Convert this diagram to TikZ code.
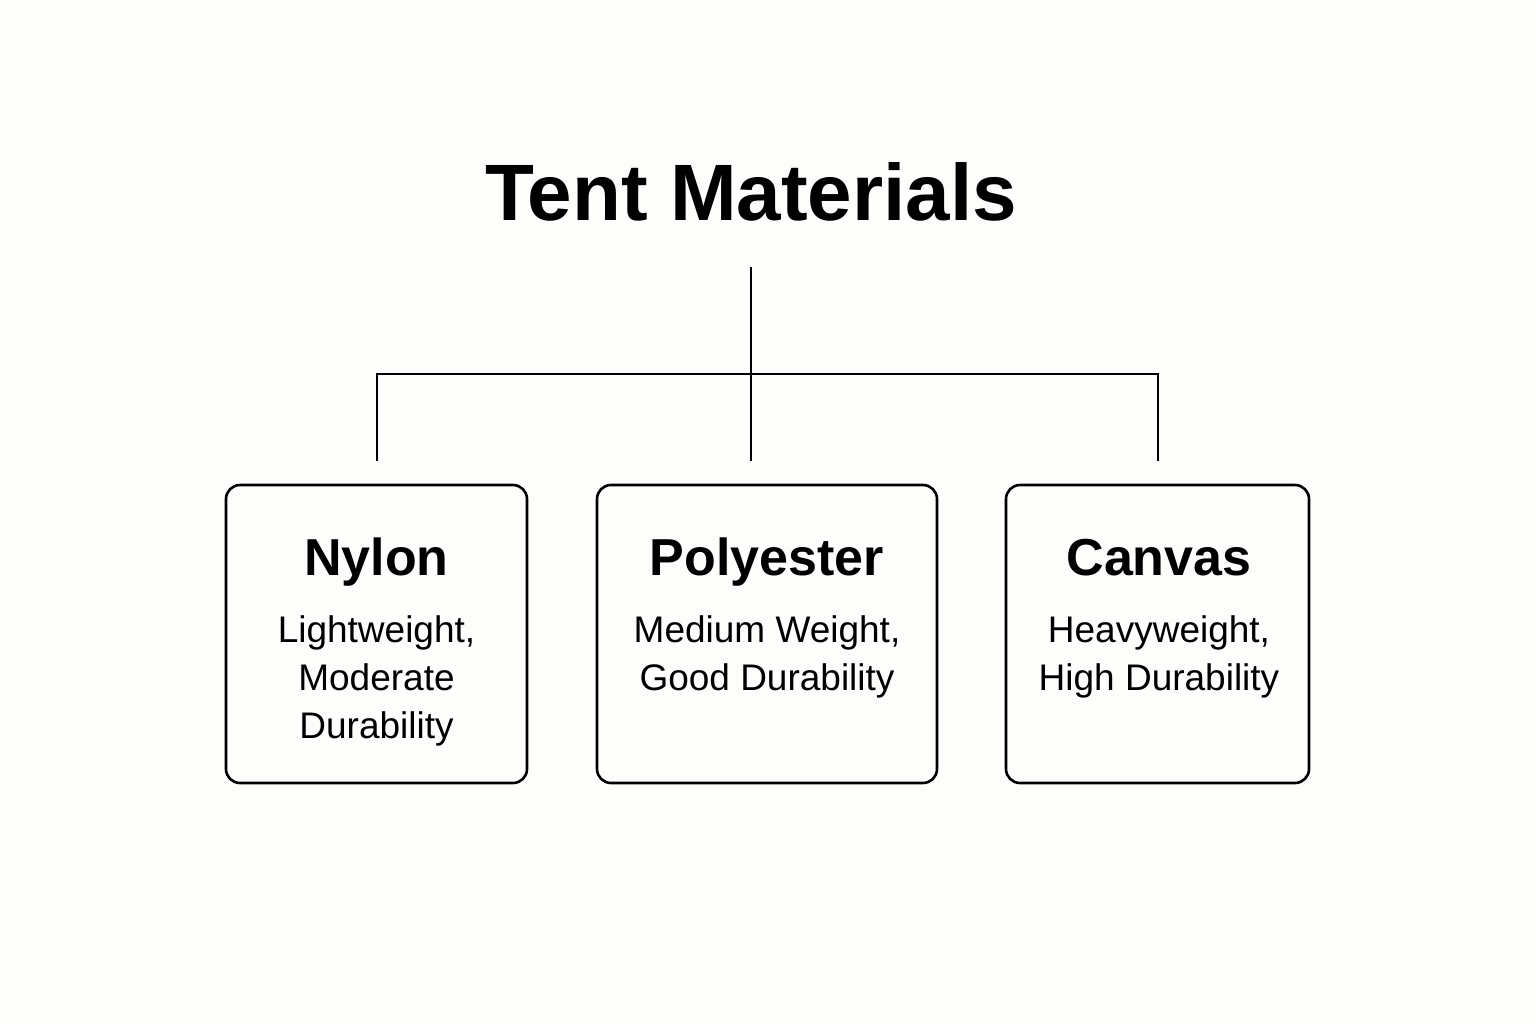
\documentclass[tikz,border=0pt]{standalone}
\usepackage{fontspec}
\setmainfont{Liberation Sans}
\usetikzlibrary{positioning}
\definecolor{paper}{HTML}{FDFDFB}
\tikzstyle{matbox}=[draw, line width=1.3pt, rounded corners=7pt, inner sep=0pt]
\tikzstyle{matname}=[anchor=base, font=\fontsize{26}{30}\selectfont\bfseries]
\tikzstyle{matdesc}=[anchor=north, align=center, inner sep=0pt, font=\fontsize{18.5}{24}\selectfont]
\tikzstyle{link}=[draw, line width=1.3pt]

\begin{document}
\begin{tikzpicture}[x=0.5pt, y=-0.5pt]
\fill[paper] (0,0) rectangle (1536,1024);
\useasboundingbox (0,0) rectangle (1536,1024);
\node[anchor=base, font=\fontsize{40}{46}\selectfont\bfseries] (title) at (751,220) {Tent Materials};
% boxes
\node[matbox, minimum width=150.5pt, minimum height=149pt] (nylon) at (376.5,634) {};
\node[matbox, minimum width=170pt, minimum height=149pt] (poly) at (767,634) {};
\node[matbox, minimum width=151.5pt, minimum height=149pt] (canvas) at (1157.5,634) {};
\node[matname] (nylonT) at (376.5,575) {Nylon};
\node[matname] (polyT) at (767,575) {Polyester};
\node[matname] (canvasT) at (1159,575) {Canvas};
\node[matdesc] (nylonD) at (376.5,615) {Lightweight,\\Moderate\\Durability};
\node[matdesc] (polyD) at (767,615) {Medium Weight,\\Good Durability};
\node[matdesc] (canvasD) at (1159,615) {Heavyweight,\\High Durability};
% tree lines
\coordinate (top) at (751,267);
\coordinate (hub) at (751,374);
\coordinate (left) at (377,374);
\coordinate (right) at (1158,374);
\coordinate (leftEnd) at (377,461);
\coordinate (midEnd) at (751,461);
\coordinate (rightEnd) at (1158,461);
\path[link] (top) -- (midEnd);
\path[link] (leftEnd) -- (left) -- (right) -- (rightEnd);
\end{tikzpicture}
\end{document}
